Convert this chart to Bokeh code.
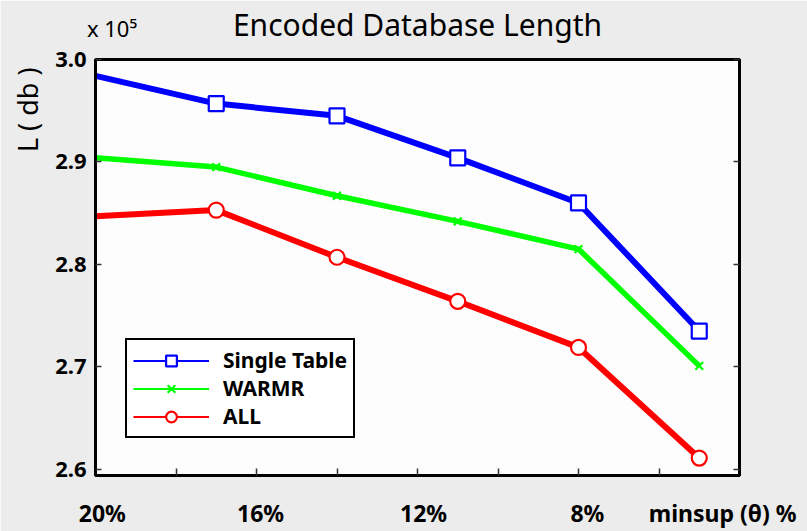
from bokeh.plotting import figure
from bokeh.models import (ColumnDataSource, CDSView, IndexFilter, Range1d, FixedTicker,
                          LinearAxis, Title, Legend, LegendItem, NumeralTickFormatter,
                          CustomJSTickFormatter)
from bokeh.embed import file_html
from bokeh.resources import INLINE

# ---- data ----
minsup = [20, 17, 14, 11, 8, 5]
single_table = [2.984, 2.957, 2.945, 2.904, 2.860, 2.735]
warmr = [2.904, 2.895, 2.867, 2.842, 2.815, 2.701]
all_rel = [2.847, 2.853, 2.807, 2.764, 2.719, 2.611]
series_names = ["Single Table", "WARMR", "ALL"]
y_ticks = [2.6, 2.7, 2.8, 2.9, 3.0]
x_tick_marks = [20, 18, 16, 14, 12, 10, 8, 6, 4]
x_labels = ["20%", "16%", "12%", "8%", "minsup (θ) %"]
title_text = "Encoded Database Length"
y_label = "L ( db )"
scale_label = "x 10⁵"

# label anchor positions (layout only)
x_label_pos = [19.83, 15.9, 11.85, 7.78, 4.42]
scale_label_pos = 19.59

FONT = "Noto Sans"

p = figure(width=807, height=531, output_backend="svg", toolbar_location=None, title=None,
           x_range=Range1d(20, 4), y_range=Range1d(2.594, 3.0),
           min_border_left=95, min_border_right=68, min_border_top=58, min_border_bottom=54,
           background_fill_color="#fdfdfd", border_fill_color="#ebeceb",
           outline_line_color="black", outline_line_width=3)
p.grid.visible = False

# bottom axis: minor ticks are the visible marks, major ticks carry the labels
xa = p.xaxis[0]
xa.ticker = FixedTicker(ticks=x_label_pos, minor_ticks=x_tick_marks)
xa.major_label_overrides = {v: t for v, t in zip(x_label_pos, x_labels)}
xa.major_tick_in = 0
xa.major_tick_out = 0
xa.minor_tick_in = 7
xa.minor_tick_out = 0
xa.minor_tick_line_color = "#333333"
xa.minor_tick_line_width = 1.5
xa.axis_line_width = 3
xa.axis_line_color = "black"
xa.major_label_standoff = 21
xa.major_label_text_font = FONT
xa.major_label_text_font_style = "bold"
xa.major_label_text_font_size = "23px"
xa.major_label_text_color = "black"

ya = p.yaxis[0]
ya.ticker = FixedTicker(ticks=y_ticks)
ya.formatter = NumeralTickFormatter(format="0.0")
ya.major_tick_in = 6
ya.major_tick_out = 0
ya.minor_tick_in = 0
ya.minor_tick_out = 0
ya.major_tick_line_color = "#333333"
ya.major_tick_line_width = 1.5
ya.axis_line_width = 3
ya.axis_line_color = "black"
ya.major_label_standoff = 9
ya.major_label_text_font = FONT
ya.major_label_text_font_style = "bold"
ya.major_label_text_font_size = "22px"
ya.major_label_text_color = "black"

ra = LinearAxis(ticker=FixedTicker(ticks=y_ticks),
                formatter=CustomJSTickFormatter(code="return ''"),
                major_tick_in=6, major_tick_out=0, minor_tick_in=0, minor_tick_out=0,
                major_tick_line_color="#333333", major_tick_line_width=1.5,
                axis_line_width=3, axis_line_color="black")
p.add_layout(ra, "right")

# top: scale factor as a tick label and the chart title as the axis label
ta = LinearAxis(ticker=FixedTicker(ticks=[scale_label_pos]),
                major_label_overrides={scale_label_pos: scale_label},
                axis_line_alpha=0, major_tick_in=0, major_tick_out=0,
                minor_tick_in=0, minor_tick_out=0,
                major_label_standoff=17, major_label_text_font=FONT,
                major_label_text_font_size="22px", major_label_text_color="black",
                major_label_text_font_style="normal",
                axis_label=title_text, axis_label_standoff=-35,
                axis_label_text_font=FONT, axis_label_text_font_size="30px",
                axis_label_text_font_style="normal", axis_label_text_color="black")
p.add_layout(ta, "above")

# rotated y label near the top of the left side
p.add_layout(Title(text=y_label, align="right", offset=8, standoff=10,
                   vertical_align="top",
                   text_font=FONT, text_font_size="27px", text_font_style="normal",
                   text_color="black"), "left")

colors = ["#0000ff", "#00ff00", "#ff0000"]
markers = ["square", "x", "circle"]
sizes = [15, 11, 15]
widths = [6, 5.5, 6]
items = []
for name, vals, c, m, s, w in zip(series_names, [single_table, warmr, all_rel],
                                   colors, markers, sizes, widths):
    src = ColumnDataSource(dict(x=minsup, y=vals))
    thin = p.line("x", "y", source=src, line_color=c, line_width=2)
    p.line("x", "y", source=src, line_color=c, line_width=w)
    view = CDSView(filter=IndexFilter(list(range(1, len(minsup)))))
    mk = p.scatter("x", "y", source=src, view=view, marker=m, size=s,
                   line_color=c, fill_color="white", line_width=2.2)
    items.append(LegendItem(label=name, renderers=[thin, mk]))

legend = Legend(items=items, location=(30, 37), orientation="vertical",
                border_line_color="black", border_line_width=2, border_line_alpha=1,
                background_fill_color="white", background_fill_alpha=1,
                padding=6, spacing=0, margin=0,
                glyph_width=76, glyph_height=27, label_height=27, label_standoff=14,
                label_text_font=FONT, label_text_font_style="bold",
                label_text_font_size="21px", label_text_color="black")
p.add_layout(legend)

open("out.html", "w").write(file_html(p, INLINE))
